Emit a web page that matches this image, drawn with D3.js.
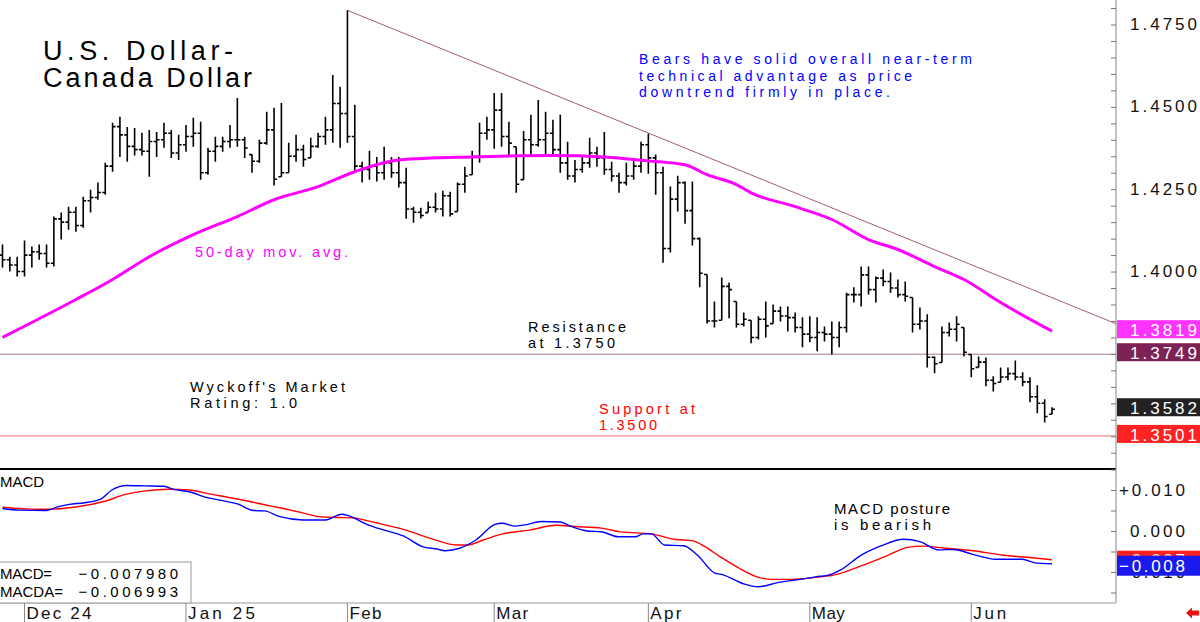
<!DOCTYPE html>
<html>
<head>
<meta charset="utf-8">
<script src="https://cdn.jsdelivr.net/npm/d3@7"></script>
<style>
  html, body { margin: 0; padding: 0; background: #fff; }
  svg { display: block; }
  text { font-family: "Liberation Sans", Arial, sans-serif; }
</style>
</head>
<body>
<div id="chart"></div>
<script>
// daily USD/CAD bars, Nov 27 2024 .. Jun 17 2025 (index = trading day)
const highs = [
  1.4082,1.4045,1.4045,1.4094,1.4076,1.4082,1.4082,1.4167,1.4179,1.4197,
  1.4197,1.4227,1.4248,1.4270,1.4330,1.4452,1.4470,1.4439,1.4436,1.4421,
  1.4430,1.4424,1.4452,1.4430,1.4415,1.4445,1.4467,1.4455,1.4376,1.4409,
  1.4409,1.4445,1.4527,1.4409,1.4355,1.4400,1.4485,1.4497,1.4512,1.4391,
  1.4415,1.4385,1.4406,1.4421,1.4470,1.4597,1.4561,1.4793,1.4506,1.4333,
  1.4367,1.4348,1.4379,1.4348,1.4348,1.4315,1.4197,1.4194,1.4212,1.4239,
  1.4245,1.4242,1.4270,1.4318,1.4367,1.4452,1.4470,1.4542,1.4542,1.4455,
  1.4379,1.4427,1.4476,1.4521,1.4485,1.4461,1.4476,1.4394,1.4339,1.4348,
  1.4406,1.4379,1.4424,1.4333,1.4300,1.4330,1.4342,1.4394,1.4418,1.4355,
  1.4318,1.4258,1.4291,1.4273,1.4273,1.4103,1.3991,1.3909,1.3982,1.3967,
  1.3909,1.3876,1.3852,1.3864,1.3909,1.3900,1.3894,1.3894,1.3876,1.3861,
  1.3864,1.3861,1.3833,1.3848,1.3848,1.3936,1.3952,1.4015,1.4015,1.3985,
  1.4006,1.3997,1.3976,1.3970,1.3921,1.3891,1.3870,1.3742,1.3833,1.3845,
  1.3864,1.3830,1.3748,1.3742,1.3739,1.3682,1.3709,1.3709,1.3730,1.3694,
  1.3679,1.3655,1.3612,1.3588
];
const lows = [
  1.4012,1.4000,1.3985,1.3985,1.4012,1.4036,1.4012,1.4015,1.4097,1.4127,
  1.4121,1.4133,1.4179,1.4218,1.4233,1.4303,1.4348,1.4333,1.4352,1.4352,
  1.4288,1.4348,1.4376,1.4345,1.4339,1.4364,1.4379,1.4279,1.4294,1.4333,
  1.4364,1.4376,1.4379,1.4345,1.4300,1.4330,1.4385,1.4261,1.4288,1.4300,
  1.4333,1.4318,1.4345,1.4376,1.4385,1.4391,1.4376,1.4391,1.4303,1.4270,
  1.4279,1.4273,1.4279,1.4285,1.4255,1.4160,1.4148,1.4161,1.4179,1.4179,
  1.4167,1.4167,1.4182,1.4239,1.4294,1.4330,1.4400,1.4373,1.4379,1.4348,
  1.4239,1.4279,1.4348,1.4379,1.4355,1.4355,1.4300,1.4279,1.4270,1.4300,
  1.4315,1.4318,1.4294,1.4273,1.4239,1.4261,1.4279,1.4300,1.4297,1.4233,
  1.4027,1.4058,1.4182,1.4145,1.4079,1.3952,1.3842,1.3830,1.3852,1.3858,
  1.3830,1.3833,1.3782,1.3794,1.3800,1.3842,1.3848,1.3818,1.3815,1.3770,
  1.3785,1.3758,1.3788,1.3748,1.3770,1.3815,1.3906,1.3894,1.3930,1.3906,
  1.3955,1.3936,1.3921,1.3909,1.3815,1.3824,1.3709,1.3691,1.3724,1.3803,
  1.3788,1.3742,1.3679,1.3709,1.3652,1.3636,1.3664,1.3670,1.3670,1.3652,
  1.3603,1.3570,1.3542,1.3567
];
const opens = [
  1.4050,1.4036,1.4020,1.4000,1.4050,1.4060,1.4055,1.4025,1.4160,1.4150,
  1.4180,1.4140,1.4215,1.4225,1.4240,1.4320,1.4440,1.4415,1.4380,1.4370,
  1.4365,1.4395,1.4400,1.4420,1.4360,1.4385,1.4410,1.4420,1.4300,1.4365,
  1.4380,1.4395,1.4400,1.4400,1.4375,1.4335,1.4390,1.4430,1.4280,1.4300,
  1.4350,1.4370,1.4340,1.4380,1.4410,1.4430,1.4510,1.4480,1.4410,1.4320,
  1.4310,1.4320,1.4300,1.4330,1.4300,1.4270,1.4190,1.4180,1.4170,1.4195,
  1.4190,1.4230,1.4175,1.4265,1.4290,1.4350,1.4420,1.4430,1.4490,1.4410,
  1.4390,1.4265,1.4400,1.4385,1.4400,1.4420,1.4370,1.4330,1.4290,1.4310,
  1.4330,1.4360,1.4345,1.4310,1.4290,1.4270,1.4290,1.4320,1.4385,1.4345,
  1.4300,1.4070,1.4220,1.4270,1.4185,1.4100,1.3995,1.3850,1.3850,1.3955,
  1.3945,1.3840,1.3855,1.3800,1.3855,1.3835,1.3880,1.3865,1.3860,1.3830,
  1.3810,1.3800,1.3815,1.3810,1.3800,1.3830,1.3930,1.3930,1.3990,1.3945,
  1.3980,1.3970,1.3950,1.3930,1.3925,1.3840,1.3850,1.3740,1.3720,1.3815,
  1.3825,1.3840,1.3755,1.3705,1.3725,1.3670,1.3660,1.3680,1.3690,1.3680,
  1.3665,1.3620,1.3600,1.3560
];
const closes = [
  1.4036,1.4020,1.4000,1.4050,1.4060,1.4055,1.4025,1.4160,1.4150,1.4180,
  1.4140,1.4215,1.4225,1.4240,1.4320,1.4440,1.4415,1.4380,1.4370,1.4365,
  1.4395,1.4400,1.4420,1.4360,1.4385,1.4410,1.4420,1.4300,1.4365,1.4380,
  1.4395,1.4400,1.4400,1.4375,1.4335,1.4390,1.4430,1.4280,1.4300,1.4350,
  1.4370,1.4340,1.4380,1.4410,1.4430,1.4510,1.4480,1.4410,1.4320,1.4310,
  1.4320,1.4300,1.4330,1.4300,1.4270,1.4190,1.4180,1.4170,1.4195,1.4190,
  1.4230,1.4175,1.4265,1.4290,1.4350,1.4420,1.4430,1.4490,1.4410,1.4390,
  1.4265,1.4400,1.4385,1.4400,1.4420,1.4370,1.4330,1.4290,1.4310,1.4330,
  1.4360,1.4345,1.4310,1.4290,1.4270,1.4290,1.4320,1.4385,1.4345,1.4300,
  1.4070,1.4220,1.4270,1.4185,1.4100,1.3995,1.3850,1.3850,1.3955,1.3945,
  1.3840,1.3855,1.3800,1.3855,1.3835,1.3880,1.3865,1.3860,1.3830,1.3810,
  1.3800,1.3815,1.3810,1.3800,1.3830,1.3930,1.3930,1.3990,1.3945,1.3980,
  1.3970,1.3950,1.3930,1.3925,1.3840,1.3850,1.3740,1.3720,1.3815,1.3825,
  1.3840,1.3755,1.3705,1.3725,1.3670,1.3660,1.3680,1.3690,1.3680,1.3665,
  1.3620,1.3600,1.3560,1.3582
];

// 50-day moving average, read at these bar indexes
const maIdx = [0,10,15,20,26,32,37,43,48,54,64,75,82,88,93,96,100,102,108,113,118,122,127,131,136,143];
const maVals = [1.3800,1.3915,1.3976,1.4045,1.4112,1.4167,1.4218,1.4258,1.4303,1.4339,1.4348,1.4352,1.4348,1.4336,1.4324,1.4294,1.4264,1.4239,1.4197,1.4158,1.4097,1.4067,1.4015,1.3976,1.3906,1.3819];

// downtrend line from the Feb high
const trendIdx = [47, 152];
const trendVals = [1.4793, 1.3839];

const resistance = 1.3749;
const support = 1.3501;
const lastClose = 1.3582;
const lastMA = 1.3819;

// MACD (blue) and MACDA signal (red)
const macdIdx = [0,2.3,6,7.5,9.1,11.2,13.3,14.9,16.9,19.5,22,23.2,25.8,27.4,30,32,34.2,35.7,37.8,40.9,44,46.2,47.2,49.8,52,54.6,57.2,59.2,60.3,62.3,64.5,67.1,68.1,69.7,71.2,73.4,76,77.5,79.7,81.6,83.9,86.2,87.3,88.4,90.2,92.8,94.7,97,98.2,101,103,105.6,108.7,110.8,113,114.2,117,119.6,122.8,125,127.6,129.6,132.2,135.3,139,140.5,143];
const macdVals = [0.0055,0.0051,0.0050,0.0059,0.0065,0.0069,0.0077,0.0100,0.0111,0.0110,0.0109,0.0102,0.0094,0.0084,0.0074,0.0066,0.0050,0.0049,0.0035,0.0027,0.0027,0.0041,0.0037,0.0015,0.0002,-0.0012,-0.0038,-0.0044,-0.0048,-0.0042,-0.0022,0.0016,0.0019,0.0012,0.0015,0.0023,0.0022,0.0011,0.0000,-0.0002,-0.0014,-0.0014,-0.0007,-0.0007,-0.0034,-0.0036,-0.0059,-0.0102,-0.0107,-0.0129,-0.0136,-0.0126,-0.0118,-0.0112,-0.0105,-0.0095,-0.0059,-0.0037,-0.0020,-0.0026,-0.0046,-0.0045,-0.0057,-0.0069,-0.0069,-0.0077,-0.0080];
const sigIdx = [0,4.9,6.5,10.2,13.8,16.9,19.5,22.6,25.4,28.4,32,36.3,40.5,43.1,45.7,47.7,50.9,54.6,58.3,61.8,63.4,65.5,68.1,71.8,75.4,78,81.6,84.2,88.4,91.5,94.1,95.6,97.8,100.4,103,105,107.6,110.8,113.4,117,120.7,123.3,125.4,128.5,132.2,136.4,139.6,143];
const sigVals = [0.0058,0.0053,0.0053,0.0059,0.0072,0.0090,0.0098,0.0102,0.0100,0.0090,0.0078,0.0062,0.0046,0.0035,0.0033,0.0032,0.0020,0.0004,-0.0018,-0.0034,-0.0034,-0.0022,-0.0007,0.0002,0.0014,0.0011,0.0007,-0.0002,-0.0007,-0.0020,-0.0024,-0.0037,-0.0063,-0.0091,-0.0113,-0.0118,-0.0118,-0.0113,-0.0107,-0.0085,-0.0059,-0.0040,-0.0037,-0.0042,-0.0048,-0.0059,-0.0064,-0.0070];
const macdLast = -0.007980;
const sigLast = -0.006993;

// x axis months
const monthIdx = [3, 25, 47, 67, 88, 110, 132];
const monthLabels = ["Dec 24", "Jan 25", "Feb", "Mar", "Apr", "May", "Jun"];
const monthWidths = [65, 67, 32, 32, 31, 33, 33];

const priceLabels = [1.475, 1.45, 1.425, 1.4, 1.375, 1.35];
const macdLabels = [0.01, 0, -0.01];

const width = 1200, height = 622;
const axisX = 1116;
const priceBottom = 469, macdTop = 470, macdBottom = 603;

const svg = d3.select("#chart").append("svg")
    .attr("width", width)
    .attr("height", height);

const x = d3.scaleLinear().domain([0, highs.length - 1]).range([2.5, 1052]);
const y = d3.scaleLinear().domain([1.35, 1.475]).range([436.25, 24.5]);
const yM = d3.scaleLinear().domain([-0.01, 0.01]).range([572, 490]);

svg.append("defs").append("clipPath").attr("id", "plot")
    .append("rect").attr("x", 0).attr("y", 0).attr("width", axisX).attr("height", priceBottom);

function label(t, x0, y0, len, size, color) {
    return svg.append("text")
        .attr("x", x0).attr("y", y0)
        .attr("textLength", len).attr("lengthAdjust", "spacing")
        .attr("font-size", size)
        .attr("fill", color || "#000")
        .text(t);
}

// horizontal support / resistance
svg.append("line")
    .attr("x1", 0).attr("x2", axisX)
    .attr("y1", y(resistance)).attr("y2", y(resistance))
    .attr("stroke", "#a87686").attr("stroke-width", 1);
svg.append("line")
    .attr("x1", 0).attr("x2", axisX)
    .attr("y1", y(support)).attr("y2", y(support))
    .attr("stroke", "#f07070").attr("stroke-width", 1);

// trendline
svg.append("line")
    .attr("clip-path", "url(#plot)")
    .attr("x1", x(trendIdx[0])).attr("y1", y(trendVals[0]))
    .attr("x2", x(trendIdx[1])).attr("y2", y(trendVals[1]))
    .attr("stroke", "#a06070").attr("stroke-width", 1);

// OHLC bars
const bars = d3.range(highs.length).map(i => ({
    i, h: highs[i], l: lows[i],
    o: Math.min(highs[i], Math.max(lows[i], opens[i])),
    c: closes[i]
}));
svg.append("g").selectAll("path").data(bars).join("path")
    .attr("d", d => {
        const cx = x(d.i);
        return `M${cx},${y(d.h)}V${y(d.l)}M${cx - 3},${y(d.o)}H${cx}M${cx},${y(d.c)}H${cx + 3}`;
    })
    .attr("fill", "none")
    .attr("stroke", "#000")
    .attr("stroke-width", 1.6);

// moving average
svg.append("path")
    .datum(d3.zip(maIdx, maVals))
    .attr("d", d3.line().x(d => x(d[0])).y(d => y(d[1])).curve(d3.curveMonotoneX))
    .attr("fill", "none")
    .attr("stroke", "#ff00ff")
    .attr("stroke-width", 3);

// annotations
label("U.S. Dollar-", 43, 60, 190, 27);
label("Canada Dollar", 43, 87, 209, 27);
label("Bears have solid overall near-term", 639, 64, 333, 14, "#0000ff");
label("technical advantage as price", 639, 80.5, 273, 14, "#0000ff");
label("downtrend firmly in place.", 639, 96.5, 251, 14, "#0000ff");
label("50-day mov. avg.", 195, 257, 153, 14.5, "#ff00ff");
label("Resistance", 528, 332, 98, 14.5);
label("at 1.3750", 528, 348, 87, 14.5);
label("Wyckoff's Market", 190, 391.5, 155, 14.5);
label("Rating: 1.0", 190, 408, 107, 14.5);
label("Support at", 599, 414, 96, 14.5, "#ff0000");
label("1.3500", 599, 430, 58, 14.5, "#ff0000");

// panel separators
svg.append("line").attr("x1", 0).attr("x2", axisX).attr("y1", priceBottom).attr("y2", priceBottom)
    .attr("stroke", "#000").attr("stroke-width", 2);
svg.append("line").attr("x1", 0).attr("x2", axisX).attr("y1", macdBottom).attr("y2", macdBottom)
    .attr("stroke", "#999").attr("stroke-width", 1);
svg.append("line").attr("x1", axisX).attr("x2", axisX).attr("y1", 0).attr("y2", macdBottom)
    .attr("stroke", "#888").attr("stroke-width", 1);

// price axis ticks and labels
svg.append("g")
    .attr("transform", `translate(${axisX},0)`)
    .call(d3.axisLeft(y).tickValues(d3.range(1.345, 1.4826, 0.005)).tickSize(5).tickFormat(""))
    .call(g => g.select(".domain").remove())
    .call(g => g.selectAll("line").attr("stroke", "#777"));
svg.append("g")
    .selectAll("text").data(priceLabels).join("text")
    .attr("x", 1197).attr("y", d => y(d) + 5.5)
    .attr("text-anchor", "end")
    .attr("font-size", 17)
    .attr("textLength", 67).attr("lengthAdjust", "spacing")
    .attr("fill", "#111")
    .text(d3.format(".4f"));

// price value boxes
const priceBoxes = [
    { v: lastMA, fill: "#ff33ff" },
    { v: resistance, fill: "#7d2255" },
    { v: lastClose, fill: "#222" },
    { v: support, fill: "#ff2222" }
];
const pb = svg.append("g").selectAll("g").data(priceBoxes).join("g");
pb.append("rect")
    .attr("x", axisX + 1).attr("y", d => y(d.v) - 11)
    .attr("width", width - axisX).attr("height", 18)
    .attr("fill", d => d.fill);
pb.append("text")
    .attr("x", 1197).attr("y", d => y(d.v) + 5)
    .attr("text-anchor", "end")
    .attr("font-size", 17)
    .attr("textLength", 67).attr("lengthAdjust", "spacing")
    .attr("fill", "#fff")
    .text(d => d3.format(".4f")(d.v));

// MACD panel
const mline = d3.line().x(d => x(d[0])).y(d => yM(d[1])).curve(d3.curveMonotoneX);
svg.append("path").datum(d3.zip(sigIdx, sigVals)).attr("d", mline)
    .attr("fill", "none").attr("stroke", "#ff0000").attr("stroke-width", 1.4);
svg.append("path").datum(d3.zip(macdIdx, macdVals)).attr("d", mline)
    .attr("fill", "none").attr("stroke", "#0000ff").attr("stroke-width", 1.4);

label("MACD", 0, 486.5, 44, 15);
label("MACD posture", 834, 514, 116, 15);
label("is bearish", 834, 530, 97, 15);

svg.append("rect").attr("x", -1).attr("y", 562).attr("width", 192).attr("height", 41)
    .attr("fill", "#fff").attr("stroke", "#999");
label("MACD=", 0, 579, 52, 15);
label(d3.format(".6f")(macdLast), 78.5, 579, 99.5, 15);
label("MACDA=", 0, 596.5, 63, 15);
label(d3.format(".6f")(sigLast), 78.5, 596.5, 99.5, 15);

svg.append("g")
    .attr("transform", `translate(${axisX},0)`)
    .call(d3.axisLeft(yM).tickValues(d3.range(-0.015, 0.0151, 0.005)).tickSize(5).tickFormat(""))
    .call(g => g.select(".domain").remove())
    .call(g => g.selectAll("line").attr("stroke", "#777"));
const macdFmt = d => d > 0 ? "+" + d3.format(".3f")(d) : d3.format(".3f")(d);
svg.append("g").selectAll("text").data(macdLabels).join("text")
    .attr("x", 1185).attr("y", d => yM(d) + 5.5)
    .attr("text-anchor", "end")
    .attr("font-size", 17)
    .attr("textLength", d => d === 0 ? 55 : 66).attr("lengthAdjust", "spacing")
    .attr("fill", "#111")
    .text(macdFmt);

const macdBoxes = [
    { v: sigLast, fill: "#ff2020", top: -9, h: 18 },
    { v: macdLast, fill: "#1a1aee", top: -8, h: 20 }
];
const mb = svg.append("g").selectAll("g").data(macdBoxes).join("g");
mb.append("rect")
    .attr("x", axisX + 1).attr("y", d => yM(d.v) + d.top)
    .attr("width", width - axisX).attr("height", d => d.h)
    .attr("fill", d => d.fill);
mb.append("text")
    .attr("x", 1185).attr("y", d => yM(d.v) + d.top + d.h / 2 + 6)
    .attr("text-anchor", "end")
    .attr("font-size", 17)
    .attr("textLength", 66).attr("lengthAdjust", "spacing")
    .attr("fill", "#fff")
    .text(d => d3.format(".3f")(d.v));

// month axis
const mg = svg.append("g").selectAll("g").data(monthIdx).join("g")
    .attr("transform", d => `translate(${x(d)},0)`);
mg.append("line").attr("y1", macdBottom).attr("y2", height).attr("stroke", "#888");
mg.append("text")
    .attr("x", 2).attr("y", 619)
    .attr("font-size", 17)
    .attr("textLength", (d, i) => monthWidths[i]).attr("lengthAdjust", "spacing")
    .attr("fill", "#111")
    .text((d, i) => monthLabels[i]);

// small red arrow, bottom right
svg.append("path")
    .attr("d", "M1186,613 L1192,607.5 L1192,610.5 L1199,610.5 L1199,615.5 L1192,615.5 L1192,618.5 Z")
    .attr("fill", "#ee1111");
</script>
</body>
</html>
